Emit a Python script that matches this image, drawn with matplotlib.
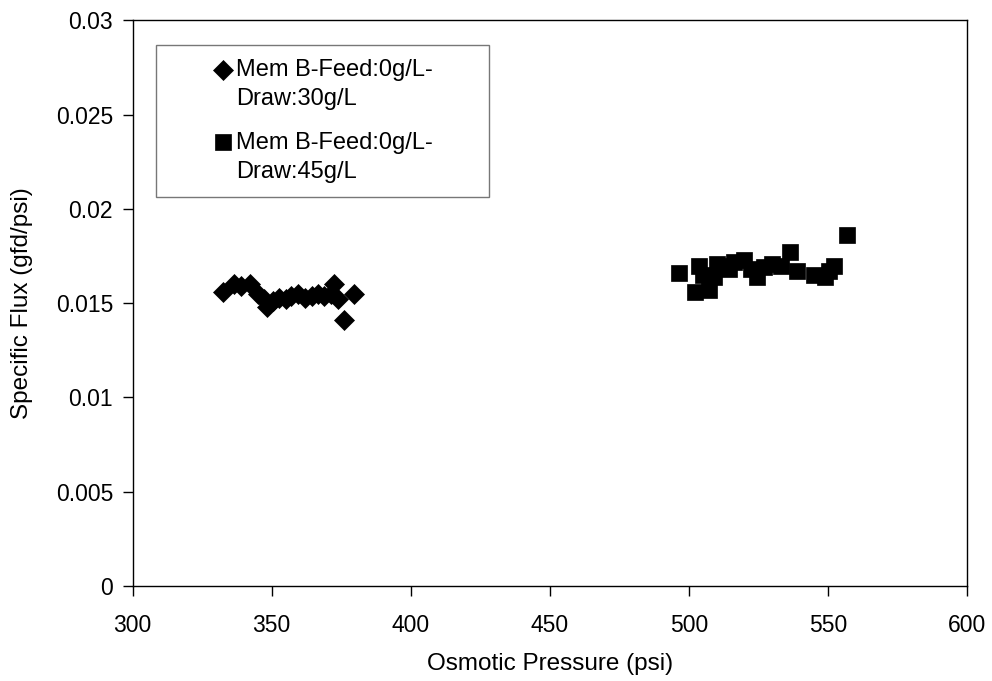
import numpy as np
import matplotlib
matplotlib.use("Agg")
import matplotlib.pyplot as plt
from matplotlib.legend_handler import HandlerLine2D

plt.rcParams['font.family'] = ['Liberation Sans', 'DejaVu Sans']

# Series 1: Mem B-Feed:0g/L-Draw:30g/L
x30 = [332.7, 336.3, 339.0, 342.3, 345.0, 347.2, 348.5, 350.5, 352.5, 355.0,
       357.0, 359.5, 362.0, 364.5, 366.5, 369.0, 371.3, 372.5, 374.0, 376.1, 379.7]
y30 = [0.0156, 0.0160, 0.0159, 0.0160, 0.0155, 0.0152, 0.0148, 0.0151, 0.0153, 0.0152,
       0.0154, 0.0155, 0.0153, 0.0154, 0.0155, 0.0154, 0.0155, 0.0160, 0.0152, 0.0141, 0.0155]

# Series 2: Mem B-Feed:0g/L-Draw:45g/L
x45 = [496.4, 502.1, 503.6, 505.0, 507.2, 509.0, 510.2, 512.6, 514.5, 516.2,
       519.8, 522.2, 524.6, 527.0, 530.0, 533.0, 536.5, 539.0, 545.0, 549.0,
       550.5, 552.1, 557.0]
y45 = [0.0166, 0.0156, 0.0170, 0.0165, 0.0157, 0.0164, 0.0171, 0.0170, 0.0168, 0.0172,
       0.0173, 0.0168, 0.0164, 0.0169, 0.0171, 0.0170, 0.0177, 0.0167, 0.0165, 0.0164,
       0.0167, 0.0170, 0.0186]

labels = ["Mem B-Feed:0g/L-\nDraw:30g/L", "Mem B-Feed:0g/L-\nDraw:45g/L"]
xticks = [300, 350, 400, 450, 500, 550, 600]
yticks = [0, 0.005, 0.01, 0.015, 0.02, 0.025, 0.03]
yticklabels = ["0", "0.005", "0.01", "0.015", "0.02", "0.025", "0.03"]

fig = plt.figure(figsize=(9.92, 6.81), dpi=100)
ax = fig.add_axes([0.1336, 0.1395, 0.8412, 0.8304])

ax.plot(x30, y30, linestyle='none', marker='D', markersize=10.5, color='black',
        markeredgewidth=0.5, label=labels[0])
ax.plot(x45, y45, linestyle='none', marker='s', markersize=11, color='black',
        markeredgewidth=0.5, label=labels[1])

ax.set_xlim(300, 600)
ax.set_ylim(0, 0.03)
ax.set_xticks(xticks)
ax.set_xticklabels([str(v) for v in xticks])
ax.set_yticks(yticks)
ax.set_yticklabels(yticklabels)
ax.tick_params(direction='out', length=7, width=1, labelsize=16.5, color='black')
ax.tick_params(axis='y', pad=7)
ax.tick_params(axis='x', pad=13)
for s in ax.spines.values():
    s.set_linewidth(1)
    s.set_color('black')

ax.set_xlabel("Osmotic Pressure (psi)", fontsize=17.5, labelpad=12)
ax.set_ylabel("Specific Flux (gfd/psi)", fontsize=17.5, labelpad=16)


class ShiftedHandler(HandlerLine2D):
    def __init__(self, dy=0.0, **kw):
        super().__init__(**kw)
        self.dy = dy

    def create_artists(self, legend, orig_handle, xdescent, ydescent, width,
                       height, fontsize, trans):
        arts = super().create_artists(legend, orig_handle, xdescent, ydescent,
                                      width, height, fontsize, trans)
        for a in arts:
            a.set_ydata(np.asarray(a.get_ydata()) + self.dy * fontsize)
        return arts


handles = ax.get_lines()
leg = ax.legend(handles=handles, labels=labels, loc='upper left',
                bbox_to_anchor=(0.0282, 0.9567, 0.399, 0.0), mode='expand',
                borderaxespad=0, fontsize=17, frameon=True, fancybox=False,
                edgecolor='#555555', borderpad=0.6, handlelength=4.5,
                handletextpad=-1.72, labelspacing=0.9, markerscale=1.0,
                handler_map={h: ShiftedHandler(dy=0.64) for h in handles})
leg.get_frame().set_linewidth(1.0)
for t in leg.get_texts():
    t.set_linespacing(1.42)

fig.savefig("out.png", dpi=100)
